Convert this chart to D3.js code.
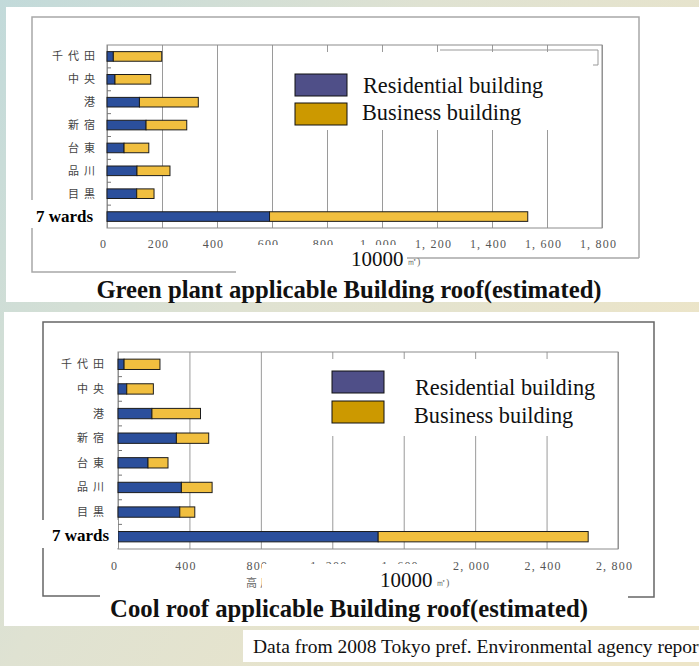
<!DOCTYPE html>
<html>
<head>
<meta charset="utf-8">
<script src="https://cdn.jsdelivr.net/npm/d3@7"></script>
<style>
  body{margin:0;padding:0;overflow:hidden;}
  svg{display:block;}
</style>
</head>
<body>
<div id="content"></div>
<script>
(function(){

      //////////////////////////////////////////////////////////////
      //////////////////////// data ////////////////////////////////
      //////////////////////////////////////////////////////////////
      var wards = ["千代田","中央","港","新宿","台東","品川","目黒","7 wards"];
      var seriesNames = ["Residential building","Business building"];

      // green plant roof, 10000 m2
      var greenResidential = [23, 29, 118, 142, 62, 109, 108, 591];
      var greenBusiness    = [176, 130, 214, 148, 90, 120, 63, 939];
      var greenTicks = [0, 200, 400, 600, 800, 1000, 1200, 1400, 1600, 1800];

      // cool roof, 10000 m2
      var coolResidential = [34, 49, 190, 327, 168, 355, 346, 1457];
      var coolBusiness    = [201, 149, 272, 181, 112, 172, 84, 1176];
      var coolTicks = [0, 400, 800, 1200, 1600, 2000, 2400, 2800];

      var barColors = ["#2b4f9c","#f1bf3f"];
      var swatchColors = ["#4f4f88","#cc9900"];

      var width = 699, height = 666;

      var svg = d3.select("#content")
          .append("svg")
          .attr("width", width)
          .attr("height", height);

      // background gradient
      var grad = svg.append("defs").append("linearGradient")
          .attr("id","bg")
          .attr("x1","0").attr("y1","0")
          .attr("x2","1").attr("y2","0.6");
      grad.append("stop").attr("offset","0").attr("stop-color","#c2dada");
      grad.append("stop").attr("offset","0.45").attr("stop-color","#dfe2d2");
      grad.append("stop").attr("offset","1").attr("stop-color","#ede5c8");

      svg.append("rect")
          .attr("width", width).attr("height", height)
          .attr("fill","url(#bg)");

      // white panels
      svg.append("rect").attr("x",6).attr("y",7).attr("width",693).attr("height",295).attr("fill","#fff");
      svg.append("rect").attr("x",4).attr("y",312).attr("width",695).attr("height",314).attr("fill","#fff");
      svg.append("rect").attr("x",243).attr("y",630).attr("width",456).attr("height",32).attr("fill","#fff");

      var fmt = function(d){
        if(d >= 1000) return d3.format(",")(d).replace(",", ", ");
        return d;
      };

      //////////////////////////////////////////////////////////////
      //////////////////////// one chart ///////////////////////////
      //////////////////////////////////////////////////////////////
      function drawChart(cfg){

        var g = svg.append("g");

        g.append("path")
            .attr("d", cfg.frame)
            .attr("fill","none")
            .attr("stroke", cfg.frameColor)
            .attr("stroke-width",1.5);

        var x = d3.scaleLinear()
            .domain([0, cfg.ticks[cfg.ticks.length-1]])
            .range([cfg.left, cfg.right]);

        var y = d3.scaleBand()
            .domain(wards)
            .range([cfg.top, cfg.bottom])
            .paddingInner(0.58)
            .paddingOuter(0.29);

        // grid lines + tick labels
        var xAxis = g.append("g")
            .attr("transform","translate(0," + cfg.bottom + ")")
            .call(d3.axisBottom(x)
              .tickValues(cfg.ticks)
              .tickSize(-(cfg.bottom - cfg.top))
              .tickPadding(cfg.labelGap)
              .tickFormat(fmt));
        xAxis.select(".domain").remove();
        xAxis.selectAll(".tick line")
            .attr("stroke","#9a9a9a")
            .attr("stroke-width",1);
        xAxis.selectAll(".tick text")
            .attr("dx", -4)
            .style("font-family","'Liberation Serif', serif")
            .style("font-size","12px")
            .style("letter-spacing","1.2px")
            .style("fill","#555");

        // plot box
        g.append("rect")
            .attr("x", cfg.left).attr("y", cfg.top)
            .attr("width", cfg.right - cfg.left)
            .attr("height", cfg.bottom - cfg.top)
            .attr("fill","none")
            .attr("stroke","#8c8c8c");

        // little dashes between the categories
        g.selectAll(".dash")
            .data(wards.slice(1))
          .enter().append("line")
            .attr("x1", cfg.left).attr("x2", cfg.left + 4)
            .attr("y1", function(d,i){ return (y(wards[i]) + y.bandwidth() + y(d)) / 2; })
            .attr("y2", function(d,i){ return (y(wards[i]) + y.bandwidth() + y(d)) / 2; })
            .attr("stroke","#777");

        // stacked bars
        var table = wards.map(function(w,i){
          return {ward: w, res: cfg.res[i], bus: cfg.bus[i]};
        });
        var stacked = d3.stack().keys(["res","bus"])(table);

        g.selectAll(".layer")
            .data(stacked)
          .enter().append("g")
            .attr("fill", function(d,i){ return barColors[i]; })
          .selectAll("rect")
            .data(function(d){ return d; })
          .enter().append("rect")
            .attr("x", function(d){ return x(d[0]); })
            .attr("y", function(d){ return y(d.data.ward); })
            .attr("width", function(d){ return x(d[1]) - x(d[0]); })
            .attr("height", y.bandwidth())
            .attr("stroke","#1c1c1c")
            .attr("stroke-width",1);

        // ward names
        g.selectAll(".wardLabel")
            .data(wards.slice(0,7))
          .enter().append("text")
            .attr("x", cfg.labelRight + 5)
            .attr("y", function(d){ return y(d) + y.bandwidth()/2; })
            .attr("dy","0.36em")
            .attr("text-anchor","end")
            .style("font-family","'Noto Sans CJK JP', sans-serif")
            .style("font-size","11px")
            .style("letter-spacing","5px")
            .style("fill","#444")
            .text(function(d){ return d; });

        // "7 wards" pasted on a white box
        g.append("rect")
            .attr("x", cfg.wardsBox[0]).attr("y", cfg.wardsBox[1])
            .attr("width", cfg.wardsBox[2]).attr("height", cfg.wardsBox[3])
            .attr("fill","#fff");
        g.append("text")
            .attr("x", cfg.wardsBox[0] + cfg.wardsText[0])
            .attr("y", cfg.wardsText[1])
            .style("font-family","'Liberation Serif', serif")
            .style("font-weight","bold")
            .style("font-size","17px")
            .text(wards[7]);

        // legend
        g.append("rect")
            .attr("x", cfg.legendBox[0]).attr("y", cfg.legendBox[1])
            .attr("width", cfg.legendBox[2]).attr("height", cfg.legendBox[3])
            .attr("fill","#fff");
        if(cfg.legendEdge){
          g.append("path")
              .attr("d", cfg.legendEdge)
              .attr("fill","none")
              .attr("stroke","#999");
        }
        var leg = g.selectAll(".legend")
            .data(seriesNames)
          .enter().append("g");
        leg.append("rect")
            .attr("x", cfg.swatchX)
            .attr("y", function(d,i){ return cfg.swatchY[i]; })
            .attr("width", 52).attr("height", 22)
            .attr("fill", function(d,i){ return swatchColors[i]; })
            .attr("stroke","#111");
        leg.append("text")
            .attr("x", function(d,i){ return cfg.legendTextX[i]; })
            .attr("y", function(d,i){ return cfg.legendTextY[i]; })
            .style("font-family","'Liberation Serif', serif")
            .style("font-size","22.3px")
            .style("fill","#111")
            .text(function(d){ return d; });

        // unit label pasted over the axis title
        if(cfg.hidden){
          g.append("text")
              .attr("x", cfg.hidden[0]).attr("y", cfg.hidden[1])
              .style("font-family","'Noto Sans CJK JP', sans-serif")
              .style("font-size","11px")
              .style("letter-spacing","3px")
              .style("fill","#666")
              .text("高反");
        }
        g.append("rect")
            .attr("x", cfg.unitBox[0]).attr("y", cfg.unitBox[1])
            .attr("width", cfg.unitBox[2]).attr("height", cfg.unitBox[3])
            .attr("fill","#fff");
        g.append("text")
            .attr("x", cfg.unitX).attr("y", cfg.unitY)
            .style("font-family","'Liberation Serif', serif")
            .style("font-size","21px")
            .style("fill","#111")
            .text("10000");
        g.append("text")
            .attr("x", cfg.unitX + 56).attr("y", cfg.unitY - 1)
            .style("font-family","'Liberation Serif', serif")
            .style("font-size","10px")
            .style("fill","#666")
            .text("㎡)");

        // title
        g.append("text")
            .attr("x", 349).attr("y", cfg.titleY)
            .attr("text-anchor","middle")
            .style("font-family","'Liberation Serif', serif")
            .style("font-weight","bold")
            .style("font-size","24.7px")
            .style("fill","#111")
            .text(cfg.title);
      }

      //////////////////////////////////////////////////////////////
      //////////////////////// green plant roof ////////////////////
      //////////////////////////////////////////////////////////////
      drawChart({
        res: greenResidential, bus: greenBusiness, ticks: greenTicks,
        left: 107, right: 602, top: 45, bottom: 228, labelGap: 11,
        labelRight: 95,
        frame: "M639,258 L639,17 L32,17 L32,272 L236,272 M406,258 L639,258",
        frameColor: "#a8a8a8",
        wardsBox: [30, 200, 66, 28], wardsText: [6, 222],
        legendBox: [285, 52, 313, 78],
        legendEdge: "M440,50 L598,50 L598,65 L593,65",
        swatchX: 295, swatchY: [74, 103],
        legendTextX: [363, 362], legendTextY: [93, 120],
        unitBox: [236, 245, 171, 30], unitX: 351, unitY: 266,
        title: "Green plant applicable Building roof(estimated)", titleY: 298
      });

      //////////////////////////////////////////////////////////////
      //////////////////////// cool roof ///////////////////////////
      //////////////////////////////////////////////////////////////
      drawChart({
        res: coolResidential, bus: coolBusiness, ticks: coolTicks,
        left: 118, right: 618, top: 352, bottom: 549, labelGap: 12,
        labelRight: 104,
        frame: "M100,596 L43,596 L43,322 L654,322 L654,597 L628,597",
        frameColor: "#666",
        wardsBox: [42, 520, 76, 28], wardsText: [10, 541],
        legendBox: [325, 359, 287, 77],
        legendEdge: null,
        swatchX: 332, swatchY: [371, 401],
        legendTextX: [415, 414], legendTextY: [395, 423],
        hidden: [246, 587],
        unitBox: [262, 564, 183, 32], unitX: 380, unitY: 587,
        title: "Cool roof applicable Building roof(estimated)", titleY: 617
      });

      // source note
      svg.append("text")
          .attr("x", 253).attr("y", 653)
          .style("font-family","'Liberation Serif', serif")
          .style("font-size","19.5px")
          .style("fill","#111")
          .text("Data from 2008 Tokyo pref. Environmental agency report");

})();
</script>
</body>
</html>
